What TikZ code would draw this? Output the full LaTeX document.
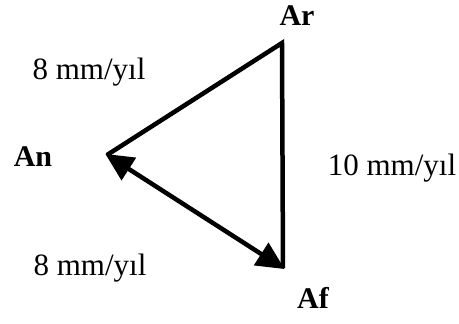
\documentclass[tikz,border=0pt]{standalone}
\usepackage{fontspec}
\setmainfont{Liberation Serif}
\usetikzlibrary{arrows.meta}
\tikzset{
  lbl/.style={font=\fontsize{31}{34}\selectfont, inner sep=0pt},
  vlbl/.style={font=\fontsize{30}{33}\selectfont\bfseries, inner sep=0pt},
  edge/.style={line width=4.5pt, line join=miter},
  vec/.style={line width=4.5pt, {Triangle[length=28pt,width=26pt]}-{Triangle[length=28pt,width=26pt]}, shorten <=-2pt, shorten >=-2pt}
}
\begin{document}
\begin{tikzpicture}[x=1pt,y=-1pt]
\useasboundingbox (0,0) rectangle (459,324);
\coordinate (ar) at (282,43);
\coordinate (an) at (107,155);
\coordinate (af) at (283,268);
\draw[edge] (an) -- (ar) -- (af);
\draw[vec] (an) -- (af);
\node[vlbl] (tAr) at (297,16) {Ar};
\node[vlbl] (tAn) at (33,157) {An};
\node[vlbl] (tAf) at (313,298) {Af};
\node[lbl] (l1) at (89,72) {8 mm/yıl};
\node[lbl] (l2) at (392,168) {10 mm/yıl};
\node[lbl] (l3) at (90,268) {8 mm/yıl};
\end{tikzpicture}
\end{document}
